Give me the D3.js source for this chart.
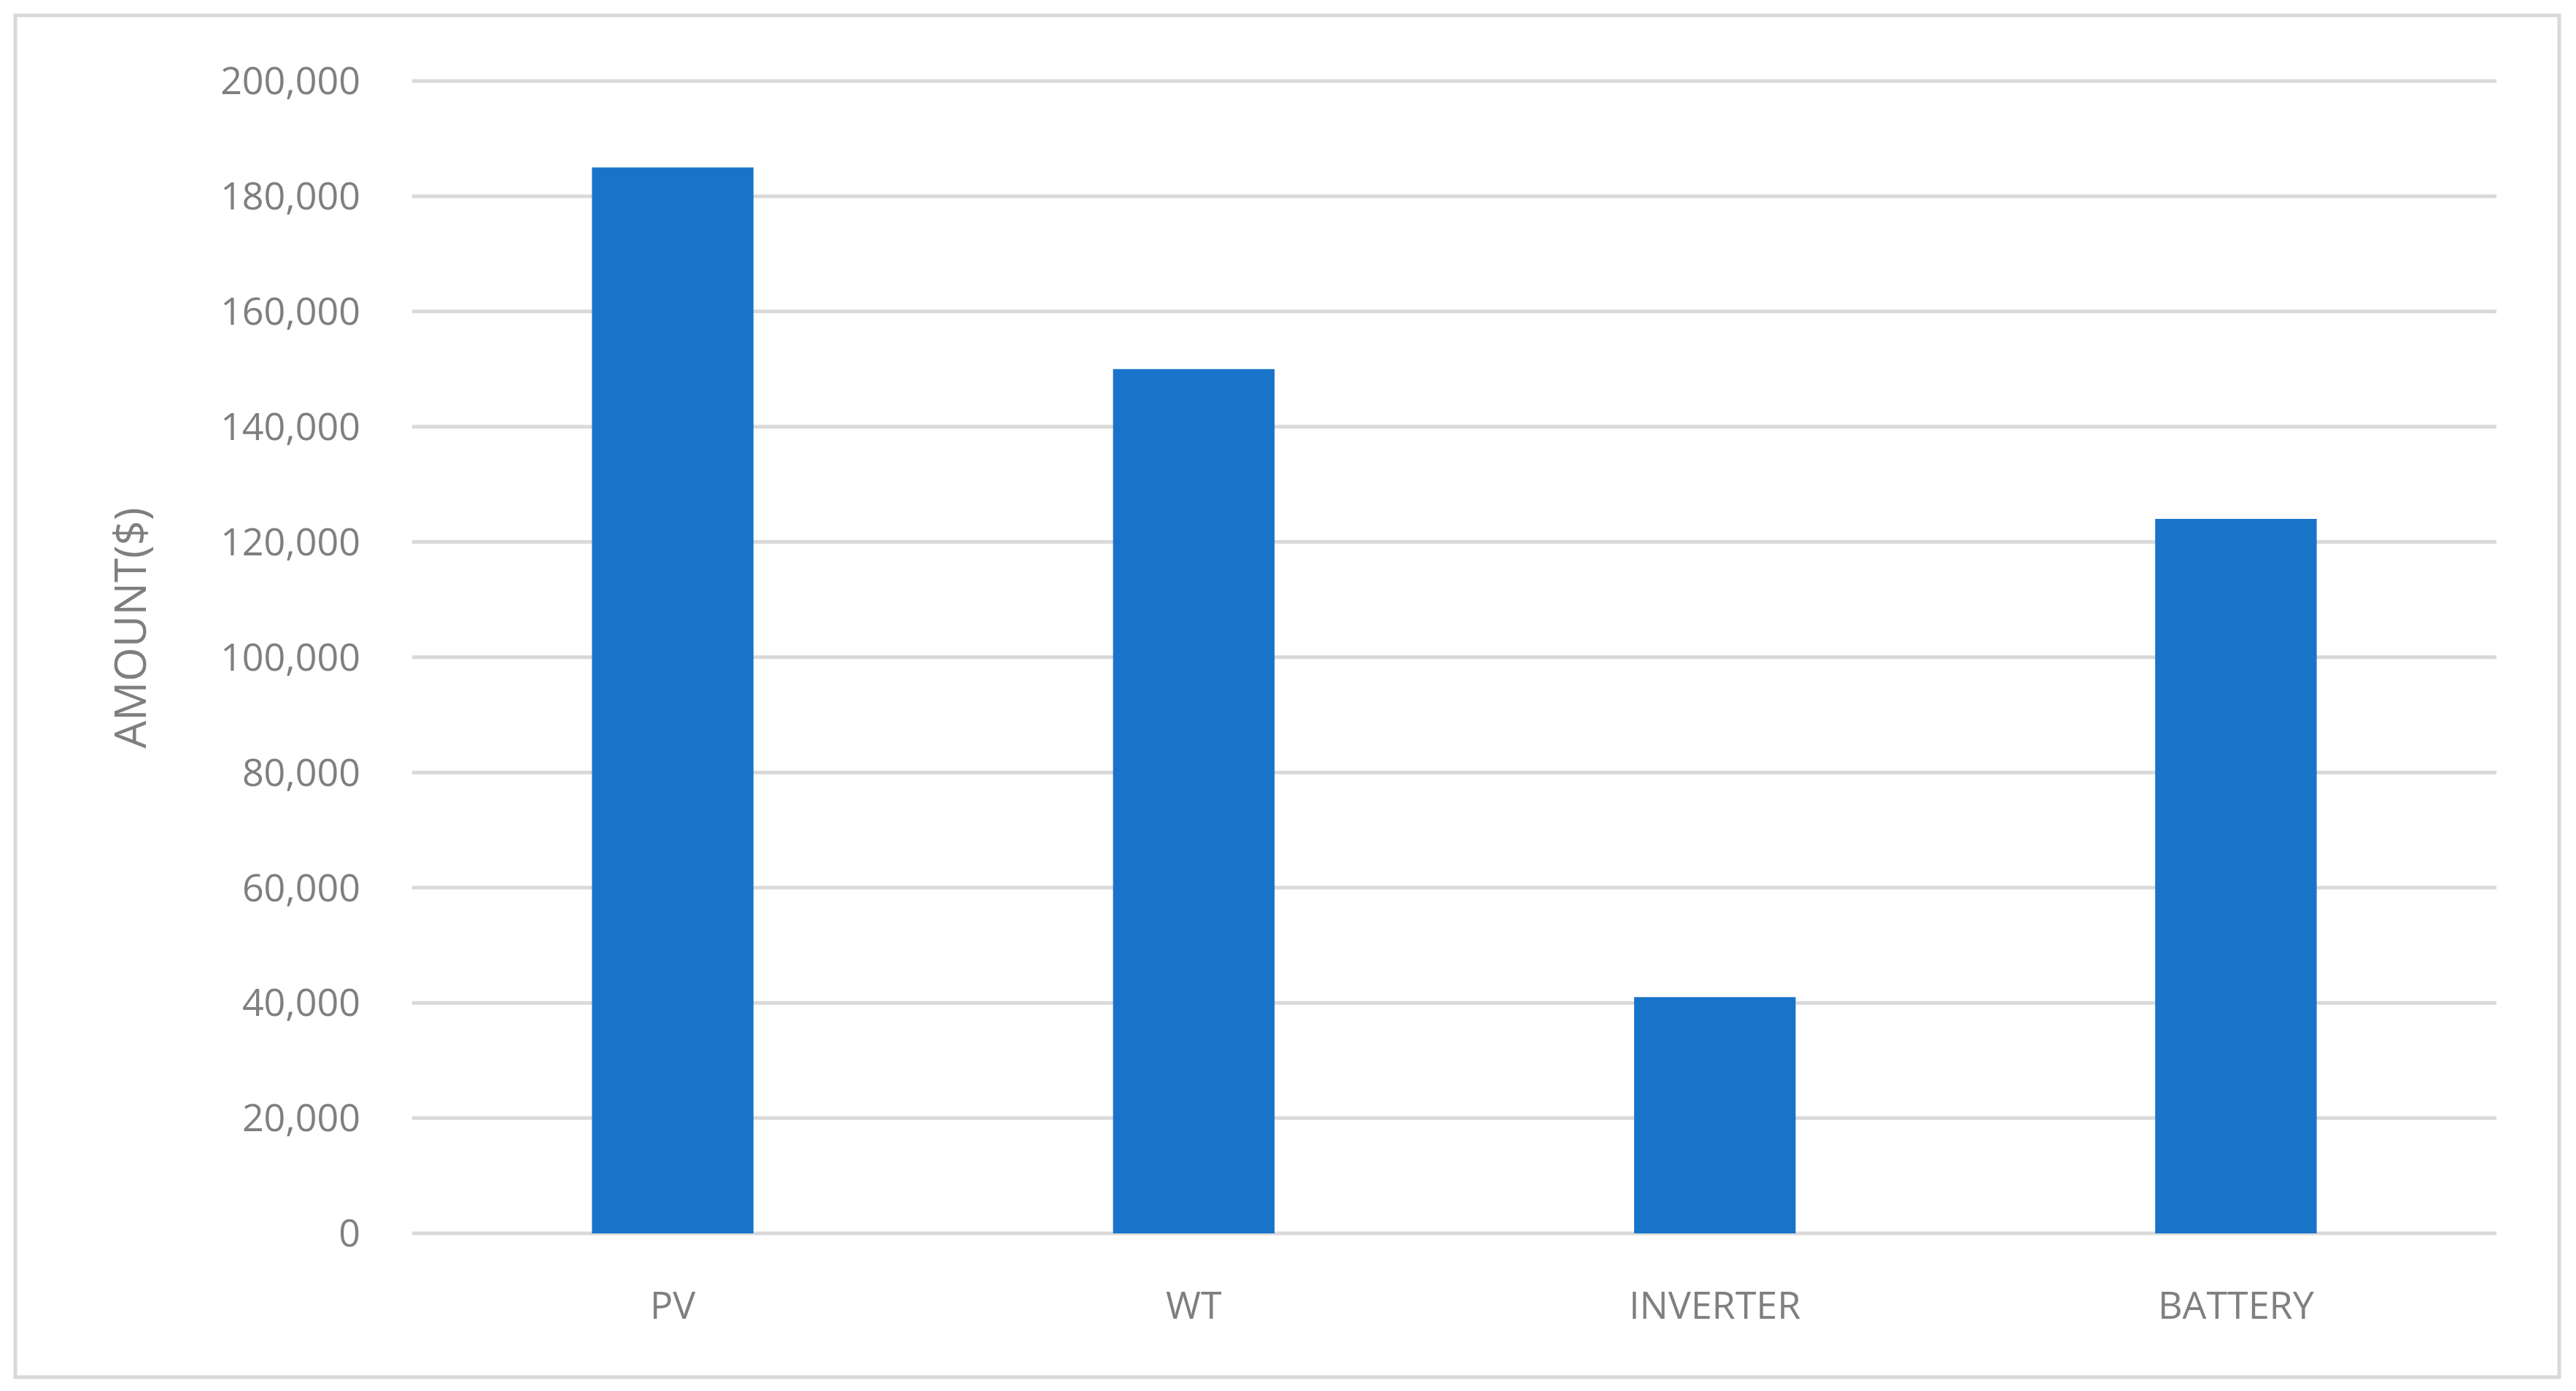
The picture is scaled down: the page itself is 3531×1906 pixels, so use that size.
<!DOCTYPE html>
<html>
<head>
<meta charset="utf-8">
<script src="https://cdn.jsdelivr.net/npm/d3@7"></script>
<style>
  body { margin: 0; background: #fff; }
  text { font-family: "Open Sans", "Liberation Sans", sans-serif; fill: #7f7f7f; }
</style>
</head>
<body>
<script>
const categories = ["PV", "WT", "INVERTER", "BATTERY"];
const amounts = [185000, 150000, 41000, 124000];
const yTicks = [0, 20000, 40000, 60000, 80000, 100000, 120000, 140000, 160000, 180000, 200000];

const W = 3531, H = 1906;
const margin = { top: 111, right: 109, bottom: 216, left: 565 };

const svg = d3.select("body").append("svg")
  .attr("width", W)
  .attr("height", H);

// outer border
svg.append("rect")
  .attr("x", 21).attr("y", 21)
  .attr("width", W - 44).attr("height", H - 40)
  .attr("fill", "none")
  .attr("stroke", "#d9d9d9")
  .attr("stroke-width", 5);

const x = d3.scaleBand()
  .domain(categories)
  .range([margin.left, W - margin.right])
  .paddingInner(0.69)
  .paddingOuter(0.345);

const y = d3.scaleLinear()
  .domain([0, 200000])
  .range([H - margin.bottom, margin.top]);

// gridlines
svg.append("g")
  .selectAll("line")
  .data(yTicks)
  .enter().append("line")
  .attr("x1", margin.left)
  .attr("x2", W - margin.right)
  .attr("y1", d => y(d))
  .attr("y2", d => y(d))
  .attr("stroke", "#d9d9d9")
  .attr("stroke-width", 5);

// bars
svg.append("g")
  .selectAll("rect")
  .data(amounts)
  .enter().append("rect")
  .attr("x", (d, i) => x(categories[i]))
  .attr("y", d => y(d))
  .attr("width", x.bandwidth())
  .attr("height", d => y(0) - y(d))
  .attr("fill", "#1874c9");

// y tick labels
svg.append("g")
  .selectAll("text")
  .data(yTicks)
  .enter().append("text")
  .attr("x", 494)
  .attr("y", d => y(d))
  .attr("dy", "0.35em")
  .attr("text-anchor", "end")
  .style("font-size", "52px")
  .text(d => d3.format(",")(d));

// x labels
svg.append("g")
  .selectAll("text")
  .data(categories)
  .enter().append("text")
  .attr("x", d => x(d) + x.bandwidth() / 2)
  .attr("y", 1807)
  .attr("text-anchor", "middle")
  .style("font-size", "52px")
  .text(d => d);

// y title
svg.append("text")
  .attr("transform", "translate(200," + (y(100000) - 40) + ") rotate(-90)")
  .attr("text-anchor", "middle")
  .style("font-size", "60px")
  .text("AMOUNT($)");
</script>
</body>
</html>
